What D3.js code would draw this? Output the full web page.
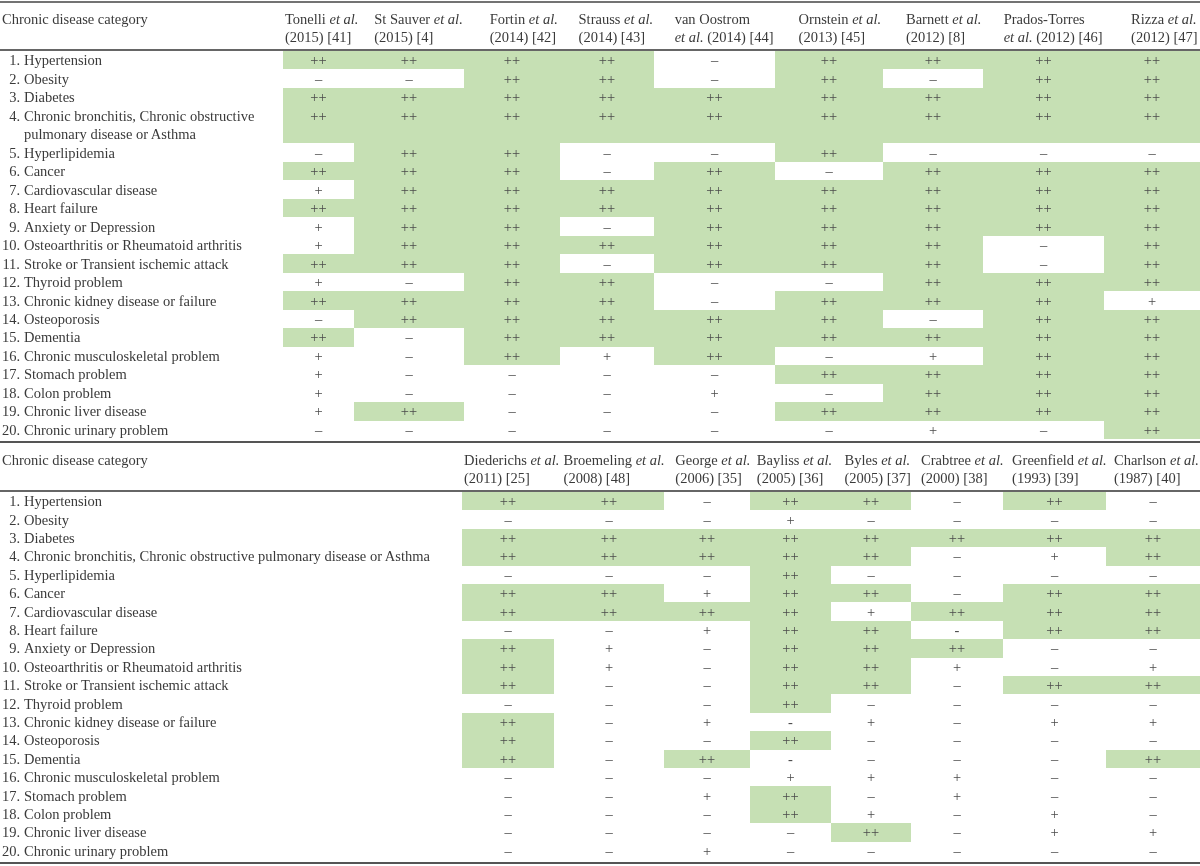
<!DOCTYPE html>
<html>
<head>
<meta charset="utf-8">
<script src="https://cdn.jsdelivr.net/npm/d3@7"></script>
<style>
  html, body { margin: 0; padding: 0; background: #fff; }
  svg { display: block; font-family: "Liberation Serif", "DejaVu Serif", serif; opacity: 0.999; will-change: transform; }
</style>
</head>
<body>
<svg id="chart" width="1200" height="866"></svg>
<script>
// ---------------- DATA ----------------
const diseases = [
  "Hypertension", "Obesity", "Diabetes",
  "Chronic bronchitis, Chronic obstructive pulmonary disease or Asthma",
  "Hyperlipidemia", "Cancer", "Cardiovascular disease", "Heart failure",
  "Anxiety or Depression", "Osteoarthritis or Rheumatoid arthritis",
  "Stroke or Transient ischemic attack", "Thyroid problem",
  "Chronic kidney disease or failure", "Osteoporosis", "Dementia",
  "Chronic musculoskeletal problem", "Stomach problem", "Colon problem",
  "Chronic liver disease", "Chronic urinary problem"
];
// wrapped label used in the narrower top table
const wrappedLabelTop = ["Chronic bronchitis, Chronic obstructive", "pulmonary disease or Asthma"];

const headerTitle = "Chronic disease category";

// top table studies
const topHeader1 = ["Tonelli et al.", "St Sauver et al.", "Fortin et al.", "Strauss et al.", "van Oostrom",
                    "Ornstein et al.", "Barnett et al.", "Prados-Torres", "Rizza et al."];
const topHeader2 = ["(2015) [41]", "(2015) [4]", "(2014) [42]", "(2014) [43]", "et al. (2014) [44]",
                    "(2013) [45]", "(2012) [8]", "et al. (2012) [46]", "(2012) [47]"];

const tonelli    = ["++","–","++","++","–","++","+","++","+","+","++","+","++","–","++","+","+","+","+","–"];
const stSauver   = ["++","–","++","++","++","++","++","++","++","++","++","–","++","++","–","–","–","–","++","–"];
const fortin     = ["++","++","++","++","++","++","++","++","++","++","++","++","++","++","++","++","–","–","–","–"];
const strauss    = ["++","++","++","++","–","–","++","++","–","++","–","++","++","++","++","+","–","–","–","–"];
const vanOostrom = ["–","–","++","++","–","++","++","++","++","++","++","–","–","++","++","++","–","+","–","–"];
const ornstein   = ["++","++","++","++","++","–","++","++","++","++","++","–","++","++","++","–","++","–","++","–"];
const barnett    = ["++","–","++","++","–","++","++","++","++","++","++","++","++","–","++","+","++","++","++","+"];
const pradosTorres = ["++","++","++","++","–","++","++","++","++","–","–","++","++","++","++","++","++","++","++","–"];
const rizza      = ["++","++","++","++","–","++","++","++","++","++","++","++","+","++","++","++","++","++","++","++"];
const topValues = [tonelli, stSauver, fortin, strauss, vanOostrom, ornstein, barnett, pradosTorres, rizza];

// bottom table studies
const bottomHeader1 = ["Diederichs et al.", "Broemeling et al.", "George et al.", "Bayliss et al.", "Byles et al.",
                       "Crabtree et al.", "Greenfield et al.", "Charlson et al."];
const bottomHeader2 = ["(2011) [25]", "(2008) [48]", "(2006) [35]", "(2005) [36]", "(2005) [37]",
                       "(2000) [38]", "(1993) [39]", "(1987) [40]"];

const diederichs = ["++","–","++","++","–","++","++","–","++","++","++","–","++","++","++","–","–","–","–","–"];
const broemeling = ["++","–","++","++","–","++","++","–","+","+","–","–","–","–","–","–","–","–","–","–"];
const george     = ["–","–","++","++","–","+","++","+","–","–","–","–","+","–","++","–","+","–","–","+"];
const bayliss    = ["++","+","++","++","++","++","++","++","++","++","++","++","-","++","-","+","++","++","–","–"];
const byles      = ["++","–","++","++","–","++","+","++","++","++","++","–","+","–","–","+","–","+","++","–"];
const crabtree   = ["–","–","++","–","–","–","++","-","++","+","–","–","–","–","–","+","+","–","–","–"];
const greenfield = ["++","–","++","+","–","++","++","++","–","–","++","–","+","–","–","–","–","+","+","–"];
const charlson   = ["–","–","++","++","–","++","++","++","–","+","++","–","+","–","++","–","–","–","+","–"];
const bottomValues = [diederichs, broemeling, george, bayliss, byles, crabtree, greenfield, charlson];

// ---------------- LAYOUT ----------------
const svg = d3.select("#chart");
const GREEN = "#c6e0b4";
const TEXT = "#3a3a3a";
const MARK = "#4a4a4a";
const FS = 14.5;

svg.append("rect").attr("width", 1200).attr("height", 866).attr("fill", "#fff");

// column edge scales (piecewise linear: index -> x)
const topX = d3.scaleLinear().domain(d3.range(10)).range([283, 354, 464, 560, 654, 775, 883, 983, 1104, 1200]);
const botX = d3.scaleLinear().domain(d3.range(9)).range([462, 554, 664, 750, 831, 911, 1003, 1106, 1200]);

// line scales (line index -> y)
const topY = d3.scaleLinear().domain([0, 21]).range([51, 439]);
const botY = d3.scaleLinear().domain([0, 20]).range([492, 860]);

function addItalicEtAl(sel, str) {
  const parts = str.split("et al.");
  parts.forEach((p, i) => {
    if (p.length) sel.append("tspan").text(p);
    if (i < parts.length - 1) sel.append("tspan").attr("font-style", "italic").text("et al.");
  });
}

function drawTable(opts) {
  const { g, xs, ys, values, h1, h2, ruleTop, ruleHead, ruleBottom, wrapRow4 } = opts;
  const nCols = values.length;

  const rowStart = diseases.map((d, i) => (wrapRow4 && i > 3) ? i + 1 : i);
  const rowSpan = diseases.map((d, i) => (wrapRow4 && i === 3) ? 2 : 1);

  // green cells
  values.forEach((col, c) => {
    col.forEach((v, r) => {
      if (v === "++") {
        const y0 = Math.round(ys(rowStart[r]));
        const y1 = Math.round(ys(rowStart[r] + rowSpan[r]));
        g.append("rect")
          .attr("x", Math.round(xs(c)))
          .attr("y", y0)
          .attr("width", Math.round(xs(c + 1)) - Math.round(xs(c)))
          .attr("height", y1 - y0)
          .attr("fill", GREEN)
          .attr("shape-rendering", "crispEdges");
      }
    });
  });

  // marks
  values.forEach((col, c) => {
    col.forEach((v, r) => {
      const yc = (ys(rowStart[r]) + ys(rowStart[r] + 1)) / 2;
      g.append("text")
        .attr("x", (xs(c) + xs(c + 1)) / 2)
        .attr("y", yc)
        .attr("dy", "0.35em")
        .attr("text-anchor", "middle")
        .attr("font-size", FS)
        .attr("fill", MARK)
        .text(v);
    });
  });

  // row labels
  diseases.forEach((d, i) => {
    const yc = (ys(rowStart[i]) + ys(rowStart[i] + 1)) / 2;
    g.append("text")
      .attr("x", 20).attr("y", yc).attr("dy", "0.35em")
      .attr("text-anchor", "end").attr("font-size", FS).attr("fill", TEXT)
      .text((i + 1) + ".");
    if (wrapRow4 && i === 3) {
      wrappedLabelTop.forEach((line, k) => {
        const ycl = (ys(rowStart[i] + k) + ys(rowStart[i] + k + 1)) / 2;
        g.append("text")
          .attr("x", 24).attr("y", ycl).attr("dy", "0.35em")
          .attr("font-size", FS).attr("fill", TEXT).text(line);
      });
    } else {
      g.append("text")
        .attr("x", 24).attr("y", yc).attr("dy", "0.35em")
        .attr("font-size", FS).attr("fill", TEXT).text(d);
    }
  });

  // headers
  const l1 = ruleHead - 31, l2 = ruleHead - 13;
  g.append("text").attr("x", 2).attr("y", l1).attr("dy", "0.35em")
    .attr("font-size", FS).attr("fill", TEXT).text(headerTitle);

  for (let c = 0; c < nCols; c++) {
    const t = g.append("text").attr("font-size", FS).attr("fill", TEXT);
    const a = t.append("tspan").attr("y", l1).attr("dy", "0.35em");
    addItalicEtAl(a, h1[c]);
    const b = t.append("tspan").attr("y", l2).attr("dy", "0.35em");
    addItalicEtAl(b, h2[c]);
    const w = Math.max(a.node().getComputedTextLength(), b.node().getComputedTextLength());
    const x0 = xs(c), cw = xs(c + 1) - xs(c);
    let x = x0 + Math.max(0, cw - w) * 0.85 + 2;
    if (x + w > 1199) x = 1199 - w;
    a.attr("x", x); b.attr("x", x);
  }

  // rules
  [[ruleTop, 1.6, "#444"], [ruleHead, 2, "#666"], [ruleBottom, 2, "#555"]].forEach(([y, sw, col]) => {
    if (y == null) return;
    g.append("line").attr("x1", 0).attr("x2", 1200).attr("y1", y).attr("y2", y)
      .attr("stroke", col).attr("stroke-width", sw);
  });
}

drawTable({
  g: svg.append("g"), xs: topX, ys: topY, values: topValues,
  h1: topHeader1, h2: topHeader2,
  ruleTop: 2, ruleHead: 50, ruleBottom: 442, wrapRow4: true
});

drawTable({
  g: svg.append("g"), xs: botX, ys: botY, values: bottomValues,
  h1: bottomHeader1, h2: bottomHeader2,
  ruleTop: null, ruleHead: 491, ruleBottom: 863, wrapRow4: false
});
</script>
</body>
</html>
